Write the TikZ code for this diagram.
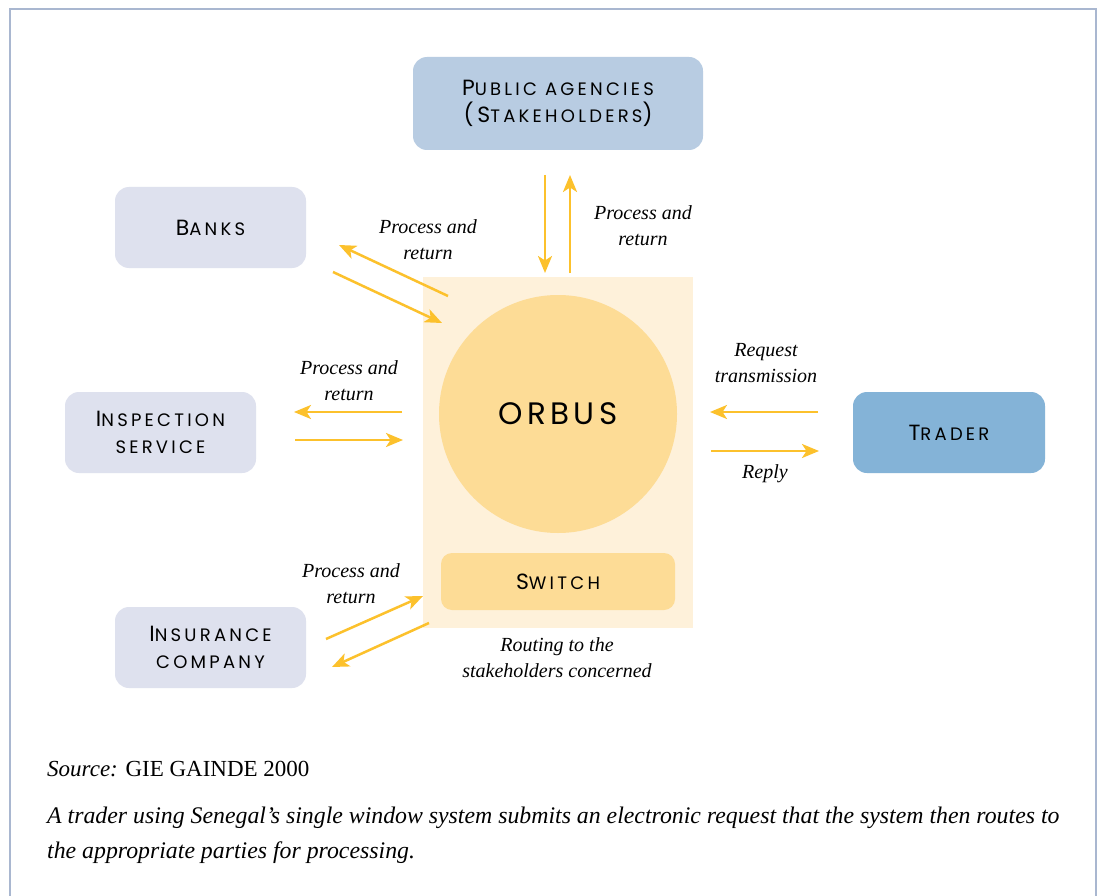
\documentclass[tikz,border=0pt]{standalone}
\usepackage{fontspec}
\setmainfont{Liberation Serif}
\newfontfamily\scfont[LetterSpace=18]{Poppins}
\newfontfamily\orbfont[LetterSpace=14]{Poppins}
\usetikzlibrary{arrows.meta}
\definecolor{bordercol}{HTML}{A9B7D0}
\definecolor{pubfill}{HTML}{B8CCE2}
\definecolor{lightfill}{HTML}{DEE1EE}
\definecolor{traderfill}{HTML}{84B3D7}
\definecolor{orbusbg}{HTML}{FEF1DA}
\definecolor{orbusfill}{HTML}{FDDC96}
\definecolor{arrowcol}{HTML}{FCC12C}
\newcommand\bigc[1]{{\fontsize{22}{27}\selectfont #1}}
\newcommand\smc[1]{{\fontsize{18}{27}\selectfont #1}}
\tikzset{
  box/.style={rounded corners=14pt, inner sep=0pt, align=center, font=\scfont\fontsize{22}{27}\selectfont, text=black},
  arr/.style={draw=arrowcol, line width=2.5pt, -{Stealth[length=17pt,width=14pt,inset=4.5pt]}},
  lbl/.style={font=\fontsize{20}{26}\selectfont\itshape, align=center, inner sep=0pt},
}
\begin{document}
\begin{tikzpicture}[x=1pt,y=-1pt]
\useasboundingbox (0,0) rectangle (1100,896);
\fill[white] (0,0) rectangle (1100,896);
\draw[bordercol, line width=1.2pt] (10,900) -- (10,9) -- (1096,9) -- (1096,900);

% ORBUS block
\node[fill=orbusbg, minimum width=270pt, minimum height=351pt, inner sep=0pt] (bg) at (558,452.5) {};
\node[circle, fill=orbusfill, minimum size=238pt, inner sep=0pt, font=\orbfont\fontsize{31}{32}\selectfont] (orbus) at (558,414) {ORBUS};
\node[box, rounded corners=11pt, fill=orbusfill, minimum width=234pt, minimum height=57pt] (switch) at (558,581.5) {\bigc{S}\smc{WITCH}};

% outer boxes
\node[box, fill=pubfill, minimum width=290pt, minimum height=93pt] (pub) at (558,103.5) {\bigc{P}\smc{UBLIC AGENCIES}\\\bigc{(S}\smc{TAKEHOLDERS}\bigc{)}};
\node[box, fill=lightfill, minimum width=191pt, minimum height=81pt] (banks) at (210.5,227.5) {\bigc{B}\smc{ANKS}};
\node[box, fill=lightfill, minimum width=191pt, minimum height=81pt] (insp) at (160.5,432.5) {\bigc{I}\smc{NSPECTION}\\\smc{SERVICE}};
\node[box, fill=lightfill, minimum width=191pt, minimum height=81pt] (ins) at (210.5,647.5) {\bigc{I}\smc{NSURANCE}\\\smc{COMPANY}};
\node[box, fill=traderfill, minimum width=192pt, minimum height=81pt] (trader) at (949,432.5) {\bigc{T}\smc{RADER}};

% arrow end points
\coordinate (p1) at (545,175); \coordinate (p2) at (545,273);
\coordinate (p3) at (570,273); \coordinate (p4) at (570,175);
\coordinate (b1) at (448,296); \coordinate (b2) at (339,245);
\coordinate (b3) at (333,272); \coordinate (b4) at (442,323);
\coordinate (i1) at (402,412); \coordinate (i2) at (294,412);
\coordinate (i3) at (295,440); \coordinate (i4) at (403,440);
\coordinate (t1) at (818,412); \coordinate (t2) at (710,412);
\coordinate (t3) at (711,451); \coordinate (t4) at (819,451);
\coordinate (s1) at (326,639); \coordinate (s2) at (423,596);
\coordinate (s3) at (429,623); \coordinate (s4) at (332,667);

\draw[arr] (p1) -- (p2);
\draw[arr] (p3) -- (p4);
\draw[arr] (b1) -- (b2);
\draw[arr] (b3) -- (b4);
\draw[arr] (i1) -- (i2);
\draw[arr] (i3) -- (i4);
\draw[arr] (t1) -- (t2);
\draw[arr] (t3) -- (t4);
\draw[arr] (s1) -- (s2);
\draw[arr] (s3) -- (s4);

% labels
\node[lbl] (lb) at (428,240) {Process and\\return};
\node[lbl] (lp) at (643,226) {Process and\\return};
\node[lbl] (li) at (349,381) {Process and\\return};
\node[lbl] (ls) at (351,584) {Process and\\return};
\node[lbl] (lt) at (766,363) {Request\\transmission};
\node[lbl] (lr) at (765,474) {Reply};
\node[lbl] (lro) at (557,658) {Routing to the\\stakeholders concerned};

% caption
\node[anchor=base west, inner sep=0pt, font=\fontsize{23}{28}\selectfont] (src) at (47,776) {\textit{Source:} GIE GAINDE 2000};
\node[anchor=base west, inner sep=0pt, font=\fontsize{23.8}{28}\selectfont\itshape] (cap1) at (47,823) {A trader using Senegal’s single window system submits an electronic request that the system then routes to};
\node[anchor=base west, inner sep=0pt, font=\fontsize{23.8}{28}\selectfont\itshape] (cap2) at (47,858) {the appropriate parties for processing.};
\end{tikzpicture}
\end{document}
